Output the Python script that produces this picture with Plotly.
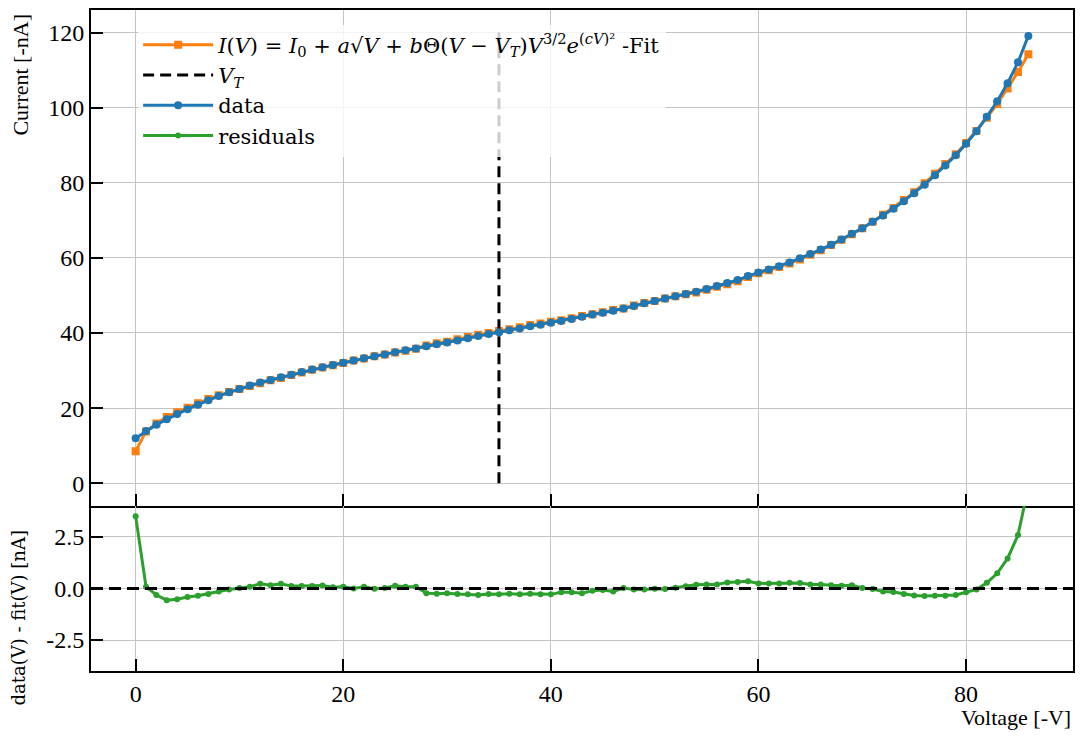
import plotly.graph_objects as go
from plotly.subplots import make_subplots

voltage = list(range(0, 87))

current_data = [
    12.0, 13.9, 15.6, 17.0, 18.4, 19.7, 20.9, 22.1, 23.2, 24.2,
    25.1, 26.0, 26.8, 27.5, 28.2, 28.9, 29.6, 30.3, 30.9, 31.5,
    32.1, 32.7, 33.3, 33.8, 34.3, 34.9, 35.4, 35.9, 36.5, 37.0,
    37.5, 38.0, 38.6, 39.2, 39.7, 40.2, 40.7, 41.2, 41.8, 42.2,
    42.7, 43.2, 43.7, 44.3, 44.9, 45.4, 45.9, 46.5, 47.2, 47.9,
    48.5, 49.2, 49.8, 50.4, 51.0, 51.7, 52.5, 53.3, 54.1, 55.2,
    56.1, 56.9, 57.8, 58.8, 59.9, 61.0, 62.2, 63.5, 64.9, 66.4,
    67.9, 69.6, 71.3, 73.1, 75.1, 77.2, 79.5, 82.0, 84.6, 87.3,
    90.4, 93.7, 97.6, 101.7, 106.5, 112.1, 119.1,
]

current_fit = [
    8.5, 13.8, 15.9, 17.6, 18.9, 20.1, 21.3, 22.4, 23.4, 24.3,
    25.1, 25.9, 26.6, 27.4, 28.0, 28.8, 29.5, 30.2, 30.8, 31.4,
    32.0, 32.7, 33.2, 33.8, 34.3, 34.8, 35.3, 35.8, 36.7, 37.3,
    37.7, 38.3, 38.9, 39.5, 40.0, 40.5, 41.0, 41.5, 42.1, 42.5,
    43.0, 43.4, 43.9, 44.5, 45.0, 45.5, 46.1, 46.5, 47.3, 48.0,
    48.5, 49.2, 49.8, 50.3, 50.8, 51.5, 52.3, 53.0, 53.8, 54.9,
    55.9, 56.7, 57.6, 58.5, 59.6, 60.8, 62.0, 63.4, 64.8, 66.3,
    67.9, 69.6, 71.5, 73.3, 75.4, 77.5, 79.9, 82.4, 85.0, 87.6,
    90.6, 93.8, 97.3, 101.0, 105.1, 109.5, 114.2,
]

residuals = [
    3.49, 0.08, -0.32, -0.57, -0.53, -0.42, -0.36, -0.27, -0.15, -0.05,
    0.02, 0.08, 0.22, 0.15, 0.22, 0.11, 0.11, 0.11, 0.14, 0.06,
    0.08, 0.0, 0.08, -0.02, 0.02, 0.13, 0.08, 0.08, -0.23, -0.26,
    -0.23, -0.27, -0.29, -0.32, -0.27, -0.29, -0.26, -0.29, -0.26, -0.29,
    -0.29, -0.19, -0.19, -0.23, -0.11, -0.08, -0.15, 0.02, -0.05, -0.06,
    -0.02, -0.03, 0.03, 0.10, 0.18, 0.19, 0.19, 0.29, 0.31, 0.34,
    0.24, 0.24, 0.24, 0.27, 0.26, 0.19, 0.19, 0.15, 0.13, 0.15,
    0.02, -0.03, -0.15, -0.18, -0.27, -0.34, -0.37, -0.36, -0.36, -0.32,
    -0.19, -0.05, 0.27, 0.73, 1.45, 2.58, 4.9,
]

V_T = 35
vt_span = [0, 120]

ORANGE = "#ff7f0e"
BLUE = "#1f77b4"
GREEN = "#2ca02c"
FONT = "Liberation Serif"
FONT2 = "DejaVu Serif"

fig = make_subplots(rows=2, cols=1, shared_xaxes=True, vertical_spacing=0,
                    row_heights=[0.75, 0.25])

fit_label = ("<i>I</i>(<i>V</i>) = <i>I</i><sub>0</sub> + <i>a</i>√<i>V</i> + "
             "<i>b</i>Θ(<i>V</i> − <i>V</i><sub><i>T</i></sub>)<i>V</i><sup>3/2</sup>"
             "<i>e</i><sup>(<i>cV</i>)²</sup> -Fit")

fig.add_trace(go.Scatter(x=voltage, y=current_fit, mode="lines+markers", name=fit_label,
                         line=dict(color=ORANGE, width=3),
                         marker=dict(symbol="square", size=8, color=ORANGE)), row=1, col=1)
fig.add_trace(go.Scatter(x=[V_T, V_T], y=vt_span, mode="lines",
                         name="<i>V</i><sub><i>T</i></sub>",
                         line=dict(color="black", width=3, dash="11px,6px")), row=1, col=1)
fig.add_trace(go.Scatter(x=voltage, y=current_data, mode="lines+markers", name="data",
                         line=dict(color=BLUE, width=3),
                         marker=dict(symbol="circle", size=8, color=BLUE)), row=1, col=1)
fig.add_trace(go.Scatter(x=voltage, y=residuals, mode="lines+markers", name="residuals",
                         line=dict(color=GREEN, width=3),
                         marker=dict(symbol="circle", size=6, color=GREEN)), row=2, col=1)

fig.add_hline(y=0, row=2, col=1, line=dict(color="black", width=3, dash="12px,6px"),
              layer="above")

axis_common = dict(showline=True, linecolor="black", linewidth=2,
                   ticks="inside", ticklen=12, tickwidth=1.5, tickcolor="black",
                   showgrid=True, gridcolor="#c4c4c4", gridwidth=1, zeroline=False,
                   tickfont=dict(family=FONT, size=24, color="black"))

fig.update_xaxes(**axis_common, range=[-4.3, 90.3], tickvals=[0, 20, 40, 60, 80])
fig.update_xaxes(showticklabels=False, mirror=True, row=1, col=1)
fig.update_xaxes(mirror=False, row=2, col=1)
fig.update_yaxes(**axis_common, mirror=True)
fig.update_yaxes(range=[-6, 126], tickvals=[0, 20, 40, 60, 80, 100, 120], row=1, col=1)
fig.update_yaxes(range=[-4, 4], tickvals=[-2.5, 0, 2.5], ticktext=["-2.5", "0.0", "2.5"],
                 row=2, col=1)

fig.add_annotation(text="Current [-nA]", xref="paper", yref="paper", x=-0.072, y=0.998,
                   xanchor="center", yanchor="top", textangle=-90, showarrow=False,
                   font=dict(family=FONT, size=22, color="black"))
fig.add_annotation(text="data(V) - fit(V) [nA]", xref="paper", yref="paper", x=-0.074, y=0.08,
                   xanchor="center", yanchor="middle", textangle=-90, showarrow=False,
                   font=dict(family=FONT2, size=18, color="black"))
fig.add_annotation(text="Voltage [-V]", xref="paper", yref="paper", x=1.0, y=-0.07,
                   xanchor="right", yanchor="middle", showarrow=False,
                   font=dict(family=FONT, size=22, color="black"))

fig.update_layout(
    width=1083, height=737,
    margin=dict(l=91, r=8, t=8, b=66),
    plot_bgcolor="white", paper_bgcolor="white",
    font=dict(family=FONT, color="black"),
    legend=dict(x=0.048, y=0.978, xanchor="left", yanchor="top",
                bgcolor="rgba(255,255,255,0.8)", borderwidth=0,
                font=dict(family=FONT2, size=21, color="black"),
                itemwidth=70, tracegroupgap=0),
    showlegend=True,
)

fig.write_html("out.html")
